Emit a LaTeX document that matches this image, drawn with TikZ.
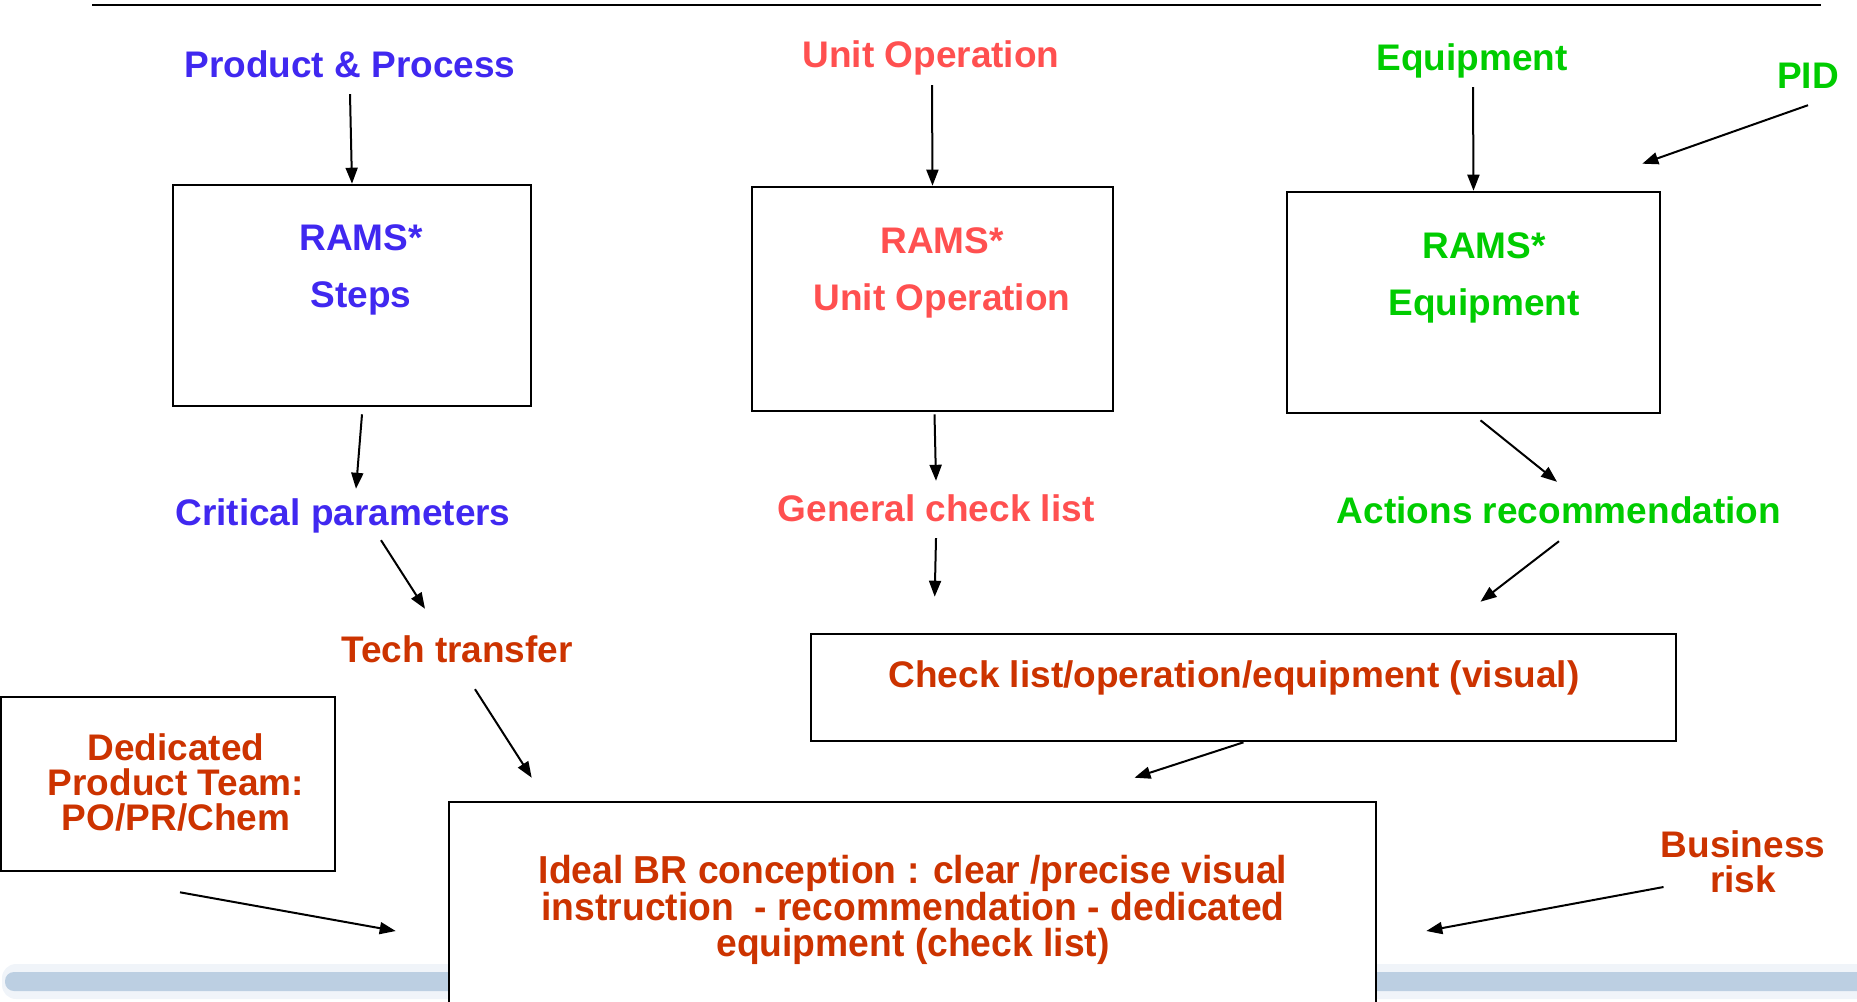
\documentclass[tikz,border=0pt]{standalone}
\usepackage{fontspec}
\setmainfont{Liberation Sans}
\newfontfamily\narrowsans[FakeStretch=0.955]{Liberation Sans}
\usetikzlibrary{arrows.meta}

\definecolor{stepblue}{RGB}{64,40,240}
\definecolor{opred}{RGB}{255,80,80}
\definecolor{eqgreen}{RGB}{0,204,0}
\definecolor{brorange}{RGB}{204,51,0}
\definecolor{barblue}{RGB}{188,207,226}
\definecolor{barhalo}{RGB}{240,244,249}

\begin{document}
\begin{tikzpicture}[x=1pt, y=-1pt,
    lbl/.style={font=\fontsize{37}{36}\selectfont\bfseries, inner sep=0pt,
        text height=27pt, text depth=8pt, anchor=base},
    blockt/.style={font=\fontsize{37}{35}\selectfont\bfseries, inner sep=0pt, align=center},
    boxframe/.style={draw, line width=2.6pt, fill=white, inner sep=0pt},
    arr/.style={-{Triangle[length=16pt,width=12pt]}, line width=2pt}]
    \useasboundingbox (0,0) rectangle (1857,1001);

    % Rule on top and bar at the foot
    \draw[line width=2pt] (92,5) -- (1821,5);
    \fill[barhalo, rounded corners=14pt] (2,964) rectangle (1875,999);
    \fill[barblue, rounded corners=9pt] (5,972) rectangle (1875,991);

    % Inputs
    \node[lbl, stepblue] (pp) at (350,77) {Product \& Process};
    \node[lbl, opred] (uo) at (931,67) {Unit Operation};
    \node[lbl, eqgreen] (eq) at (1472,70) {Equipment};
    \node[lbl, eqgreen] (pid) at (1808,88) {PID};

    % RAMS* boxes
    \node[boxframe, minimum width=358pt, minimum height=221pt] (box1) at (352,295.5) {};
    \node[boxframe, minimum width=361pt, minimum height=224pt] (box2) at (932.5,299) {};
    \node[boxframe, minimum width=373pt, minimum height=221pt] (box3) at (1473.5,302.5) {};
    \node[blockt, stepblue] (r1) at (361,270) {RAMS*\\[22pt]Steps};
    \node[blockt, opred] (r2) at (942,272.5) {RAMS*\\[22pt]Unit Operation};
    \node[blockt, eqgreen] (r3) at (1484,277.5) {RAMS*\\[22pt]Equipment};

    % Outputs of each analysis
    \node[lbl, stepblue] (crit) at (343,525) {Critical parameters};
    \node[lbl, opred] (gen) at (936,521) {General check list};
    \node[lbl, eqgreen] (act) at (1559,523) {Actions recommendation};
    \node[lbl, brorange] (tech) at (457,662) {Tech transfer};

    % Check list box
    \node[boxframe, minimum width=865pt, minimum height=107pt] (chkbox) at (1243.5,687.5) {};
    \node[lbl, brorange] (chk) at (1234,687) {Check list/operation/equipment (visual)};

    % Team and business risk
    \node[boxframe, minimum width=334pt, minimum height=174pt] (ded) at (168,784) {};
    \node[blockt, brorange] (dedt) at (176,782) {Dedicated\\Product Team:\\PO/PR/Chem};
    \node[blockt, brorange] (bus) at (1743,862) {Business\\risk};

    % Ideal BR box (runs off the bottom)
    \node[boxframe, minimum width=927pt, minimum height=210pt] (ideal) at (912.5,907) {};
    \node[font=\narrowsans\bfseries\fontsize{39}{36}\selectfont, text=brorange,
        inner sep=0pt, align=center] (idealt) at (913,910)
        {Ideal BR conception : clear /precise visual\\instruction \ - recommendation - dedicated\\equipment (check list)};

    % Arrows
    \draw[arr] ([shift={(0,9)}]pp.south) -- (box1.north);
    \draw[arr] ([shift={(1,10)}]uo.south) -- (box2.north);
    \draw[arr] ([shift={(1,9)}]eq.south) -- (box3.north);
    \draw[arr] ([shift={(0,9)}]pid.south) -- ([shift={(-19,-27)}]box3.north east);
    \draw[arr] ([shift={(10,7)}]box1.south) -- ([shift={(13,-9)}]crit.north);
    \draw[arr] ([shift={(2,2)}]box2.south) -- ([shift={(0,-13)}]gen.north);
    \draw[arr] ([shift={(7,6)}]box3.south) -- ([shift={(-2,-14)}]act.north);
    \draw[arr] ([shift={(38,7)}]crit.south) -- ([shift={(-32,-26)}]tech.north);
    \draw[arr] ([shift={(0,9)}]gen.south) -- ([shift={(125,-36)}]chkbox.north west);
    \draw[arr] ([shift={(0,10)}]act.south) -- ([shift={(237,-31)}]chkbox.north);
    \draw[arr] ([shift={(18,19)}]tech.south) -- ([shift={(84,-23)}]ideal.north west);
    \draw[arr] (chkbox.south) -- ([shift={(222,-23)}]ideal.north);
    \draw[arr] ([shift={(12,20)}]ded.south) -- ([shift={(-52,24)}]ideal.west);
    \draw[arr] ([shift={(3,25)}]bus.west) -- ([shift={(49,24)}]ideal.east);
\end{tikzpicture}
\end{document}
